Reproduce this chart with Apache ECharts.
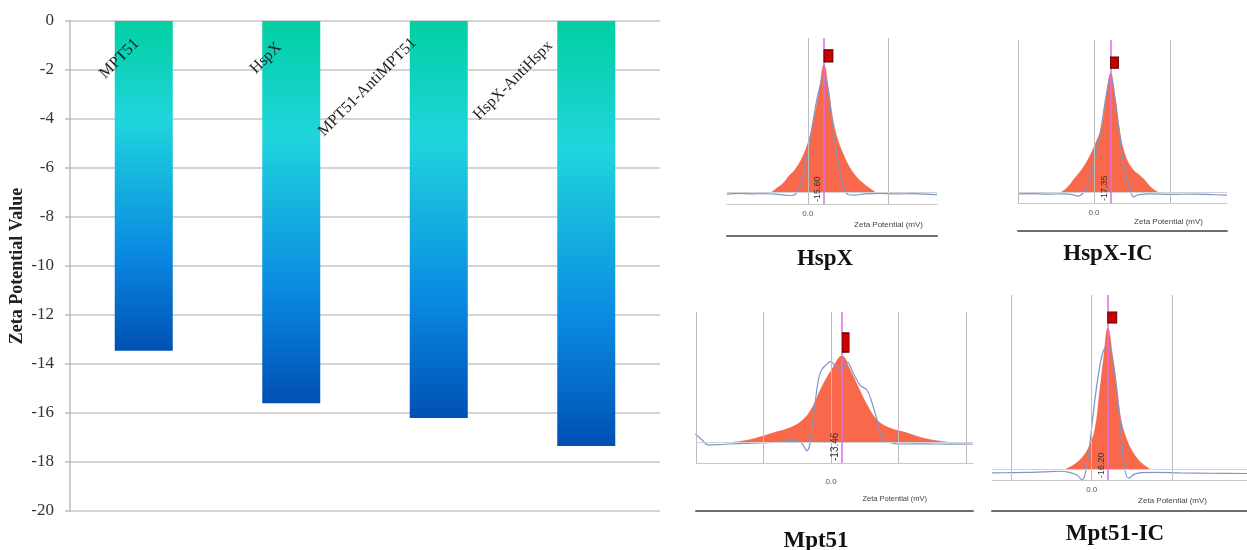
<!DOCTYPE html>
<html>
<head>
<meta charset="utf-8">
<script src="https://cdn.jsdelivr.net/npm/echarts@6/dist/echarts.min.js"></script>
<style>
  html, body { margin: 0; padding: 0; background: #fff; }
  #main { width: 1247px; height: 550px; }
</style>
</head>
<body>
<div id="main"></div>
<script>
// bar chart (left)
var barCategories = ['MPT51', 'HspX', 'MPT51-AntiMPT51', 'HspX-AntiHspx'];
var barValues = [-13.46, -15.60, -16.20, -17.35];

// peak panels (right): HspX, HspX-IC, Mpt51, Mpt51-IC
var panelTitles = ['HspX', 'HspX-IC', 'Mpt51', 'Mpt51-IC'];
var peakLabels = ['-15.60', '-17.35', '-13.46', '-16.20'];
var peakX = [20, 22, 16, 20];
var markerX = [25.6, 27, 21.5, 25.5];
var markerY = [107, 109, 115.6, 107.4];
var panelGridX = [[0, 100], [-100, 0, 100], [-200, -100, 0, 100, 200], [-100, 0, 100]];

var hspxFill = [[-44, 0], [-38, 3], [-30, 7], [-24, 12], [-15, 18], [-6, 28], [2, 42], [8, 58], [14, 78], [20, 100],
    [26, 78], [31, 57], [37, 41], [45, 28], [52, 19], [60, 12], [68, 7], [76, 3], [83, 0]];
var hspxBlue = [[-100, -1.8], [-85, -1.2], [-70, -1.6], [-55, -1.3], [-40, -1.8], [-28, -2.5], [-20, -2.8], [-14, -1],
    [-8, 8], [-2, 25], [5, 50], [12, 75], [17, 87], [20, 90], [24, 85], [29, 62], [34, 38], [40, 14], [45, 2], [50, -2],
    [58, -2.5], [70, -1.5], [90, -1.2], [110, -1.6], [130, -1.3], [145, -1.8], [160, -2.2]];

var hspxIcFill = [[-43, 0], [-35, 4], [-25, 12], [-15, 20], [-5, 31], [4, 44], [10, 54], [16, 78], [22, 100],
    [28, 78], [33, 54], [40, 33], [50, 20], [64, 12], [75, 4], [84, 0]];
var hspxIcBlue = [[-100, -1.4], [-80, -1.1], [-60, -1.6], [-40, -1.3], [-30, -1.8], [-21, -3.2], [-15, -1], [-9, 5],
    [-2, 20], [6, 42], [12, 65], [17, 85], [22, 97], [27, 82], [32, 58], [37, 32], [42, 14], [47, 4], [52, -3.8],
    [58, -2.2], [75, -1.4], [100, -1.8], [130, -1.5], [155, -1.9], [175, -2.4]];

var mptFill = [[-145, 0], [-120, 3], [-86, 10.8], [-60, 17], [-41.5, 26], [-28, 40], [-13.8, 64], [1, 84], [16, 100],
    [28, 84], [40, 64], [52, 45], [67.7, 26], [85, 17], [112, 10.8], [140, 4], [173, 0]];
var mptBlue = [[-201, 9.6], [-190, 2], [-182, -3], [-165, -2.6], [-150, -2], [-125, -1.3], [-105, -0.8], [-80, 0.5],
    [-60, 1.9], [-46, 0.3], [-36, -9.7], [-27, 25.8], [-19, 72], [-14, 84], [-7, 90], [-1.5, 93.4], [8, 87.6],
    [16, 83.8], [23, 93.4], [33, 80], [43, 66], [53, 60.6], [60, 47], [68, 25.8], [75, 5], [82, 1.5], [100, -2],
    [140, -1.8], [180, -2.2], [210, -2]];

var mptIcFill = [[-32, 0], [-22, 3], [-12, 8], [-4, 15], [4, 28], [10, 55], [15, 79], [20, 100], [26, 79], [31, 56],
    [37, 33], [44, 20], [52, 11], [62, 4], [72, 0]];
var mptIcBlue = [[-124, -2.8], [-100, -2.6], [-80, -2.4], [-60, -2], [-40, -1.6], [-28, -2.4], [-18, -4.5], [-12, -7.5],
    [-8, -3], [-4, 10], [2, 40], [8, 66], [14, 83], [20, 88], [26, 78], [32, 52], [37, 22], [41, 0], [46, -6.5],
    [52, -4], [62, -2.6], [80, -2.4], [110, -2.8], [150, -3], [193, -3.2]];

var panelFills = [hspxFill, hspxIcFill, mptFill, mptIcFill];
var panelBlues = [hspxBlue, hspxIcBlue, mptBlue, mptIcBlue];

// layout of the four small plots, in pixels
var panels = [
    {left: 727, top: 38, width: 210, height: 166, xMin: -100, xMax: 160, yMin: -9.5, yMax: 121, dark: 32,
        tx: 825, ty: 248, nameGap: -14, namePad: 17, nameSize: 8, lblMargin: 6, valSize: 9, mark: [9, 12]},
    {left: 1018, top: 40, width: 209, height: 163, xMin: -100, xMax: 175, yMin: -9, yMax: 128, dark: 28,
        tx: 1108, ty: 243, nameGap: -24, namePad: 15, nameSize: 8, lblMargin: 6, valSize: 9, mark: [8, 11]},
    {left: 696, top: 312, width: 277, height: 151, xMin: -200, xMax: 210, yMin: -24, yMax: 151, dark: 48,
        tx: 816, ty: 530, nameGap: -46, namePad: 32, nameSize: 7.5, lblMargin: 15, valSize: 10, mark: [7, 19]},
    {left: 992, top: 295, width: 255, height: 185, xMin: -124, xMax: 193, yMin: -7.8, yMax: 123.4, dark: 31,
        tx: 1115, ty: 523, nameGap: -40, namePad: 17, nameSize: 8, lblMargin: 6, valSize: 9, mark: [9, 11]}
];

var chart = echarts.init(document.getElementById('main'));

// nudges the rotated category labels like the original layout
var labelPads = [[0, 1, 1, 0], [0, 7, 2, 0], [0, 13, 14, 0], [0, 23, 20, 0]];

var grids = [{left: 70, top: 21, width: 590, height: 490, outerBoundsMode: 'none'}];
var xAxes = [{
    type: 'category',
    gridIndex: 0,
    position: 'top',
    z: 10,
    data: barCategories.map(function (c, i) {
        return {value: c, textStyle: {verticalAlign: 'bottom', padding: labelPads[i]}};
    }),
    axisLine: {show: false},
    axisTick: {show: false},
    axisLabel: {
        inside: true, interval: 0, rotate: 45, margin: 26,
        fontFamily: 'Liberation Serif', fontSize: 16, color: '#222'
    }
}];
var yAxes = [{
    type: 'value',
    gridIndex: 0,
    min: -20, max: 0, interval: 2,
    name: 'Zeta Potential Value',
    nameLocation: 'middle',
    nameGap: 44,
    nameTextStyle: {fontFamily: 'Liberation Serif', fontSize: 18, fontWeight: 'bold', color: '#222'},
    axisLine: {show: true, lineStyle: {color: '#BDBDBD', width: 1.5}},
    axisTick: {show: true, length: 5, lineStyle: {color: '#BDBDBD', width: 1.5}},
    splitLine: {lineStyle: {color: '#C6C6C6', width: 1.5}},
    axisLabel: {fontFamily: 'Liberation Serif', fontSize: 17, color: '#333', margin: 16}
}];
var series = [{
    type: 'bar',
    xAxisIndex: 0, yAxisIndex: 0,
    data: barValues,
    barWidth: 58,
    itemStyle: {
        color: {
            type: 'linear', x: 0, y: 0, x2: 0, y2: 1,
            colorStops: [
                {offset: 0, color: '#02CFA2'},
                {offset: 0.3, color: '#1FD5DC'},
                {offset: 0.7, color: '#0A8AE2'},
                {offset: 1, color: '#0050B3'}
            ]
        }
    }
}];
var titles = [];

panels.forEach(function (p, i) {
    grids.push({left: p.left, top: p.top, width: p.width, height: p.height, outerBoundsMode: 'none'});
    var xi = xAxes.length;
    xAxes.push({
        type: 'value', gridIndex: i + 1, min: p.xMin, max: p.xMax,
        axisLine: {show: true, onZero: false, lineStyle: {color: '#C8C8C8', width: 1}},
        axisTick: {show: false},
        splitLine: {show: false},
        axisLabel: {
            fontSize: 8, color: '#555', margin: p.lblMargin, fontFamily: 'Liberation Sans',
            formatter: function (v) { return v === 0 ? '0.0' : ''; }
        },
        name: 'Zeta Potential (mV)',
        nameLocation: 'end',
        nameGap: p.nameGap,
        nameTextStyle: {
            fontSize: p.nameSize, color: '#444', fontFamily: 'Liberation Sans',
            align: 'right', verticalAlign: 'top', padding: [p.namePad, 0, 0, 0]
        }
    });
    xAxes.push({
        type: 'value', gridIndex: i + 1, min: p.xMin, max: p.xMax,
        position: 'bottom', offset: p.dark,
        axisLine: {show: true, onZero: false, lineStyle: {color: '#6E6E6E', width: 2}},
        axisTick: {show: false}, axisLabel: {show: false}, splitLine: {show: false}
    });
    var yi = yAxes.length;
    yAxes.push({type: 'value', gridIndex: i + 1, min: p.yMin, max: p.yMax, show: false});

    var lines = panelGridX[i].map(function (v) {
        return {xAxis: v, lineStyle: {color: '#BDBDBD', width: 1, type: 'solid'}, label: {show: false}};
    });
    lines.push({yAxis: 0, lineStyle: {color: '#D2D2D2', width: 1, type: 'solid'}, label: {show: false}});
    lines.push({
        xAxis: peakX[i],
        lineStyle: {color: '#DA6FE2', width: 1.5, type: 'solid'},
        label: {
            show: true, position: 'insideStartTop', formatter: peakLabels[i],
            fontSize: p.valSize, color: '#333', distance: 2, fontFamily: 'Liberation Sans'
        }
    });

    series.push({
        type: 'line', xAxisIndex: xi, yAxisIndex: yi,
        data: panelFills[i], smooth: 0.4, symbol: 'none',
        lineStyle: {color: '#EE5A3C', width: 0.6},
        areaStyle: {color: '#F8684A', opacity: 1},
        markLine: {silent: true, symbol: ['none', 'none'], animation: false, data: lines},
        markPoint: {
            silent: true, symbol: 'rect', symbolSize: p.mark,
            itemStyle: {color: '#CC0000', borderColor: '#5A0000', borderWidth: 1},
            label: {show: false},
            data: [{coord: [markerX[i], markerY[i]]}]
        }
    });
    series.push({
        type: 'line', xAxisIndex: xi, yAxisIndex: yi,
        data: panelBlues[i], smooth: 0.4, symbol: 'none', z: 3,
        lineStyle: {color: '#7F96C8', width: 1.2}
    });

    titles.push({
        text: panelTitles[i], left: p.tx, top: p.ty, textAlign: 'center', padding: 0,
        textStyle: {fontFamily: 'Liberation Serif', fontSize: 23, fontWeight: 'bold', color: '#111'}
    });
});

chart.setOption({
    animation: false,
    title: titles,
    grid: grids,
    xAxis: xAxes,
    yAxis: yAxes,
    series: series
});
</script>
</body>
</html>
